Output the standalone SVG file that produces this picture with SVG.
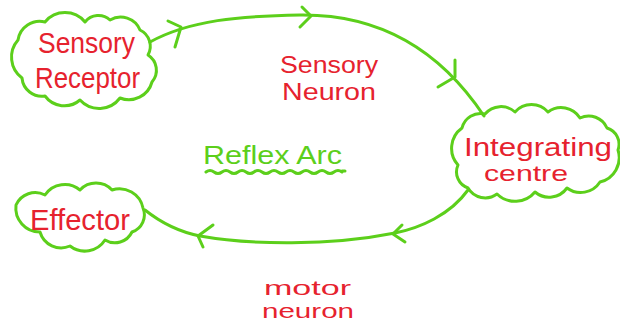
<svg xmlns="http://www.w3.org/2000/svg" width="620" height="324" viewBox="0 0 620 324">
  <style>
    .ink { fill: none; stroke: #5ccf1b; stroke-width: 3; stroke-linecap: round; stroke-linejoin: round; }
    .red { fill: #e6222e; font-family: "Liberation Sans", "DejaVu Sans", sans-serif; }
    .green { fill: #5ccf1b; font-family: "Liberation Sans", "DejaVu Sans", sans-serif; }
  </style>
  <rect width="620" height="324" fill="#ffffff"/>

  <!-- connectors -->
  <g id="connectors">
    <!-- sensory neuron arc -->
    <path class="ink" d="M 150 42 C 190 20, 240 16, 300 15 C 380 14, 440 50, 484 116"/>
    <polyline class="ink" points="168,21 181,27 175,47"/>
    <polyline class="ink" points="302,7 311,16 300,27"/>
    <polyline class="ink" points="455,60 455,77 438,87"/>
    <!-- motor neuron arc -->
    <path class="ink" d="M 468 190 C 450 215, 420 228, 395 233 C 330 246, 250 245, 200 236 C 180 232, 160 222, 145 210"/>
    <polyline class="ink" points="402,225 393,234 405,242"/>
    <polyline class="ink" points="213,225 198,236 203,247"/>
  </g>

  <g id="sensory-receptor">
    <path class="ink" d="M 18 40 A 22 22 0 0 1 45 22 A 26 26 0 0 1 85 22 A 17 17 0 0 1 110 20 A 21 21 0 0 1 140 30 A 18 18 0 0 1 148 55 A 18 18 0 0 1 152 82 A 24 24 0 0 1 120 98 A 26 26 0 0 1 80 100 A 24 24 0 0 1 45 96 A 20 20 0 0 1 22 78 A 26 26 0 0 1 18 40 Z"/>
    <text class="red" x="38" y="53" font-size="29" textLength="97" lengthAdjust="spacingAndGlyphs">Sensory</text>
    <text class="red" x="35" y="88" font-size="29" textLength="105" lengthAdjust="spacingAndGlyphs">Receptor</text>
  </g>

  <g id="integrating-centre">
    <path class="ink" d="M 462 128 A 19 19 0 0 1 485 114 A 21 21 0 0 1 515 112 A 22 22 0 0 1 548 112 A 22 22 0 0 1 580 118 A 20 20 0 0 1 607 128 A 17 17 0 0 1 618 150 A 25 25 0 0 1 600 182 A 23 23 0 0 1 567 188 A 22 22 0 0 1 535 192 A 26 26 0 0 1 497 194 A 20 20 0 0 1 468 188 A 17 17 0 0 1 458 165 A 25 25 0 0 1 462 128 Z"/>
    <text class="red" x="464" y="156" font-size="26" textLength="148" lengthAdjust="spacingAndGlyphs">Integrating</text>
    <text class="red" x="484" y="181" font-size="22" textLength="84" lengthAdjust="spacingAndGlyphs">centre</text>
  </g>

  <g id="effector">
    <path class="ink" d="M 16 205 A 21 21 0 0 1 45 195 A 24 24 0 0 1 80 190 A 22 22 0 0 1 112 190 A 24 24 0 0 1 143 208 A 18 18 0 0 1 132 232 A 19 19 0 0 1 105 240 A 24 24 0 0 1 70 246 A 22 22 0 0 1 40 232 A 24 24 0 0 1 16 205 Z"/>
    <text class="red" x="30" y="230" font-size="29" textLength="100" lengthAdjust="spacingAndGlyphs">Effector</text>
  </g>

  <g id="sensory-neuron-label">
    <text class="red" x="280" y="73" font-size="23" textLength="98" lengthAdjust="spacingAndGlyphs">Sensory</text>
    <text class="red" x="282" y="100" font-size="23" textLength="94" lengthAdjust="spacingAndGlyphs">Neuron</text>
  </g>

  <g id="motor-neuron-label">
    <text class="red" x="264" y="295" font-size="20" textLength="87" lengthAdjust="spacingAndGlyphs">motor</text>
    <text class="red" x="262" y="318" font-size="20" textLength="92" lengthAdjust="spacingAndGlyphs">neuron</text>
  </g>

  <g id="title">
    <text class="green" x="203" y="164" font-size="26" textLength="139" lengthAdjust="spacingAndGlyphs">Reflex Arc</text>
    <path class="ink" stroke-width="2.5" d="M 206 172 q 4 -3 8 0 t 8 0 t 8 0 t 8 0 t 8 0 t 8 0 t 8 0 t 8 0 t 8 0 t 8 0 t 8 0 t 8 0 t 8 0 t 8 0 t 8 0 t 8 0 t 8 0 M 342 171 l 3 0"/>
  </g>
</svg>
